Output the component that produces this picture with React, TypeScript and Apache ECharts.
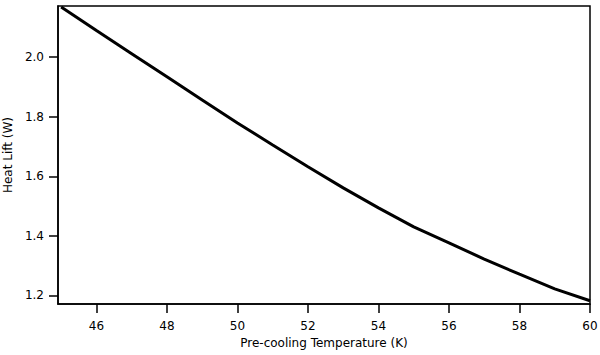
import React, { useEffect, useRef } from "react";
import * as echarts from "echarts";

const temperatures = [45, 46, 47, 48, 49, 50, 51, 52, 53, 54, 55, 56, 57, 58, 59, 60];
const heatLift = [2.169, 2.09, 2.012, 1.934, 1.856, 1.779, 1.705, 1.632, 1.561, 1.494, 1.43, 1.376, 1.322, 1.271, 1.222, 1.182];
const xTicks = [46, 48, 50, 52, 54, 56, 58, 60];
const yTicks = [1.2, 1.4, 1.6, 1.8, 2.0];

export default function App() {
  const ref = useRef<HTMLDivElement>(null);
  useEffect(() => {
    if (!ref.current) return;
    const chart = echarts.init(ref.current, null, { renderer: "svg" });
    const font = "DejaVu Sans";
    chart.setOption({
      animation: false,
      backgroundColor: "#fff",
      grid: {
        left: 58,
        top: 6,
        right: 10,
        bottom: 51,
        containLabel: false,
        outerBoundsMode: "none",
        show: true,
        borderColor: "#000",
        borderWidth: 1.5,
        backgroundColor: "transparent",
      },
      xAxis: {
        type: "value",
        min: 44.91,
        max: 60,
        name: "Pre-cooling Temperature (K)",
        nameLocation: "middle",
        nameGap: 33,
        nameTextStyle: { fontFamily: font, fontSize: 12, color: "#000" },
        axisLine: { show: true, onZero: false, lineStyle: { color: "#000", width: 1.5 } },
        axisTick: {
          show: true,
          inside: false,
          length: 9,
          lineStyle: { color: "#000", width: 1.5 },
          customValues: xTicks,
        },
        axisLabel: {
          fontFamily: font,
          fontSize: 12,
          color: "#000",
          margin: 16,
          customValues: xTicks,
          formatter: (v: number) => String(v),
        },
        splitLine: { show: false },
      },
      yAxis: {
        type: "value",
        min: 1.171,
        max: 2.172,
        name: "Heat Lift (W)",
        nameLocation: "middle",
        nameGap: 42,
        nameTextStyle: { fontFamily: font, fontSize: 12, color: "#000" },
        axisLine: { show: true, onZero: false, lineStyle: { color: "#000", width: 1.5 } },
        axisTick: {
          show: true,
          inside: false,
          length: 9,
          lineStyle: { color: "#000", width: 1.5 },
          customValues: yTicks,
        },
        axisLabel: {
          fontFamily: font,
          fontSize: 12,
          color: "#000",
          margin: 14,
          customValues: yTicks,
          formatter: (v: number) => v.toFixed(1),
        },
        splitLine: { show: false },
      },
      series: [
        {
          type: "line",
          data: temperatures.map((t, i) => [t, heatLift[i]]),
          showSymbol: false,
          lineStyle: { color: "#000", width: 3 },
          clip: true,
        },
      ],
    });
    return () => chart.dispose();
  }, []);
  return (
    <div
      ref={ref}
      style={{ position: "fixed", left: 0, top: 0, width: 600, height: 355 }}
    />
  );
}
